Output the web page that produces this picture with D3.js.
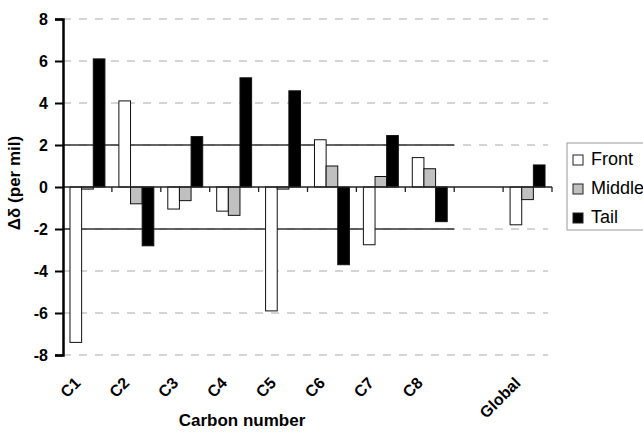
<!DOCTYPE html>
<html>
<head>
<meta charset="utf-8">
<script src="https://cdn.jsdelivr.net/npm/d3@7"></script>
<style>
  body { margin: 0; background: #fff; }
  text { font-family: Arial, "Liberation Sans", sans-serif; }
</style>
</head>
<body>
<div id="chart"></div>
<script>
// categories and series
const categories = ["C1", "C2", "C3", "C4", "C5", "C6", "C7", "C8", "", "Global"];
const series = ["Front", "Middle", "Tail"];
const front  = [-7.4, 4.1, -1.05, -1.15, -5.9, 2.25, -2.75, 1.4, null, -1.8];
const middle = [-0.1, -0.8, -0.65, -1.35, -0.1, 1.0, 0.5, 0.87, null, -0.6];
const tail   = [6.1, -2.8, 2.4, 5.2, 4.58, -3.7, 2.45, -1.65, null, 1.05];
const yTicks = [-8, -6, -4, -2, 0, 2, 4, 6, 8];
const refLines = [2, -2];

const width = 643, height = 432;
const margin = {left: 63, right: 91, top: 19, bottom: 77};
const colors = {Front: "#ffffff", Middle: "#c0c0c0", Tail: "#000000"};

const svg = d3.select("#chart").append("svg")
  .attr("width", width)
  .attr("height", height);

const x = d3.scaleBand()
  .domain(categories.map((d, i) => i))
  .range([margin.left, width - margin.right]);

const x1 = d3.scaleBand()
  .domain(series)
  .range([0, x.bandwidth()])
  .paddingOuter(0.6);

const y = d3.scaleLinear()
  .domain([-8, 8])
  .range([height - margin.bottom, margin.top]);

// dashed gridlines
svg.append("g")
  .selectAll("line")
  .data(yTicks.filter(d => d !== 0))
  .join("line")
    .attr("x1", margin.left)
    .attr("x2", width - margin.right - 4)
    .attr("y1", d => y(d))
    .attr("y2", d => y(d))
    .attr("stroke", "#aaa")
    .attr("stroke-width", 1)
    .attr("stroke-dasharray", "8,8");

// solid reference lines at +/-2 through C8
svg.append("g")
  .selectAll("line")
  .data(refLines)
  .join("line")
    .attr("x1", margin.left)
    .attr("x2", x(7) + x.bandwidth())
    .attr("y1", d => y(d))
    .attr("y2", d => y(d))
    .attr("stroke", "#333")
    .attr("stroke-width", 1.3);

// bars
const table = categories.map((c, i) => ({
  i: i,
  values: [
    {key: "Front", v: front[i]},
    {key: "Middle", v: middle[i]},
    {key: "Tail", v: tail[i]}
  ].filter(d => d.v !== null)
}));

svg.append("g")
  .selectAll("g")
  .data(table)
  .join("g")
    .attr("transform", d => `translate(${x(d.i)},0)`)
  .selectAll("rect")
  .data(d => d.values)
  .join("rect")
    .attr("x", d => x1(d.key))
    .attr("width", x1.bandwidth())
    .attr("y", d => y(Math.max(0, d.v)))
    .attr("height", d => Math.abs(y(d.v) - y(0)))
    .attr("fill", d => colors[d.key])
    .attr("stroke", "#111")
    .attr("stroke-width", 1);

// x axis at zero, with marks on the band boundaries
const xAxis = svg.append("g")
  .attr("transform", `translate(0,${y(0)})`);
xAxis.append("line")
  .attr("x1", margin.left)
  .attr("x2", width - margin.right)
  .attr("stroke", "#222")
  .attr("stroke-width", 1.5);
xAxis.selectAll(".btick")
  .data(d3.range(1, categories.length + 1))
  .join("line")
    .attr("class", "btick")
    .attr("x1", i => i < categories.length ? x(i) : x(i - 1) + x.bandwidth())
    .attr("x2", i => i < categories.length ? x(i) : x(i - 1) + x.bandwidth())
    .attr("y1", 0)
    .attr("y2", 5)
    .attr("stroke", "#222")
    .attr("stroke-width", 1.3);

// x labels, rotated
svg.append("g")
  .selectAll("text")
  .data(table.filter(d => categories[d.i] !== ""))
  .join("text")
    .attr("transform", d => `translate(${x(d.i) + x.bandwidth() / 2 - 6},${height - margin.bottom + 29}) rotate(-45)`)
    .attr("text-anchor", "end")
    .attr("font-size", 16)
    .attr("font-weight", "bold")
    .text(d => categories[d.i]);

// y axis
const yAxis = svg.append("g")
  .attr("transform", `translate(${margin.left},0)`)
  .call(d3.axisLeft(y).tickValues(yTicks).tickSize(8).tickPadding(7).tickFormat(d3.format("d")));
yAxis.select(".domain").attr("stroke", "#000").attr("stroke-width", 2.5);
yAxis.selectAll(".tick line").attr("stroke", "#000").attr("stroke-width", 2);
yAxis.selectAll(".tick text")
  .attr("font-size", 16)
  .attr("font-weight", "bold")
  .attr("font-family", "Arial, 'Liberation Sans', sans-serif")
  .attr("fill", "#000")
  .text(d => d < 0 ? "-" + Math.abs(d) : d);

// axis titles
svg.append("text")
  .attr("x", 242)
  .attr("y", 426)
  .attr("text-anchor", "middle")
  .attr("font-size", 17)
  .attr("font-weight", "bold")
  .text("Carbon number");

svg.append("text")
  .attr("transform", `translate(20,183) rotate(-90)`)
  .attr("text-anchor", "middle")
  .attr("font-size", 17)
  .attr("font-weight", "bold")
  .text("Δδ (per mil)");

// legend
const legend = svg.append("g").attr("transform", "translate(567,143)");
legend.append("rect")
  .attr("width", 85)
  .attr("height", 87)
  .attr("fill", "#fff")
  .attr("stroke", "#999")
  .attr("stroke-width", 1);
const item = legend.selectAll("g.item")
  .data(series)
  .join("g")
    .attr("class", "item")
    .attr("transform", (d, i) => `translate(6,${22 + i * 29})`);
item.append("rect")
  .attr("y", -10)
  .attr("width", 10)
  .attr("height", 10)
  .attr("fill", d => colors[d])
  .attr("stroke", "#222")
  .attr("stroke-width", 1);
item.append("text")
  .attr("x", 18)
  .attr("y", 0)
  .attr("font-size", 18)
  .text(d => d);
</script>
</body>
</html>
